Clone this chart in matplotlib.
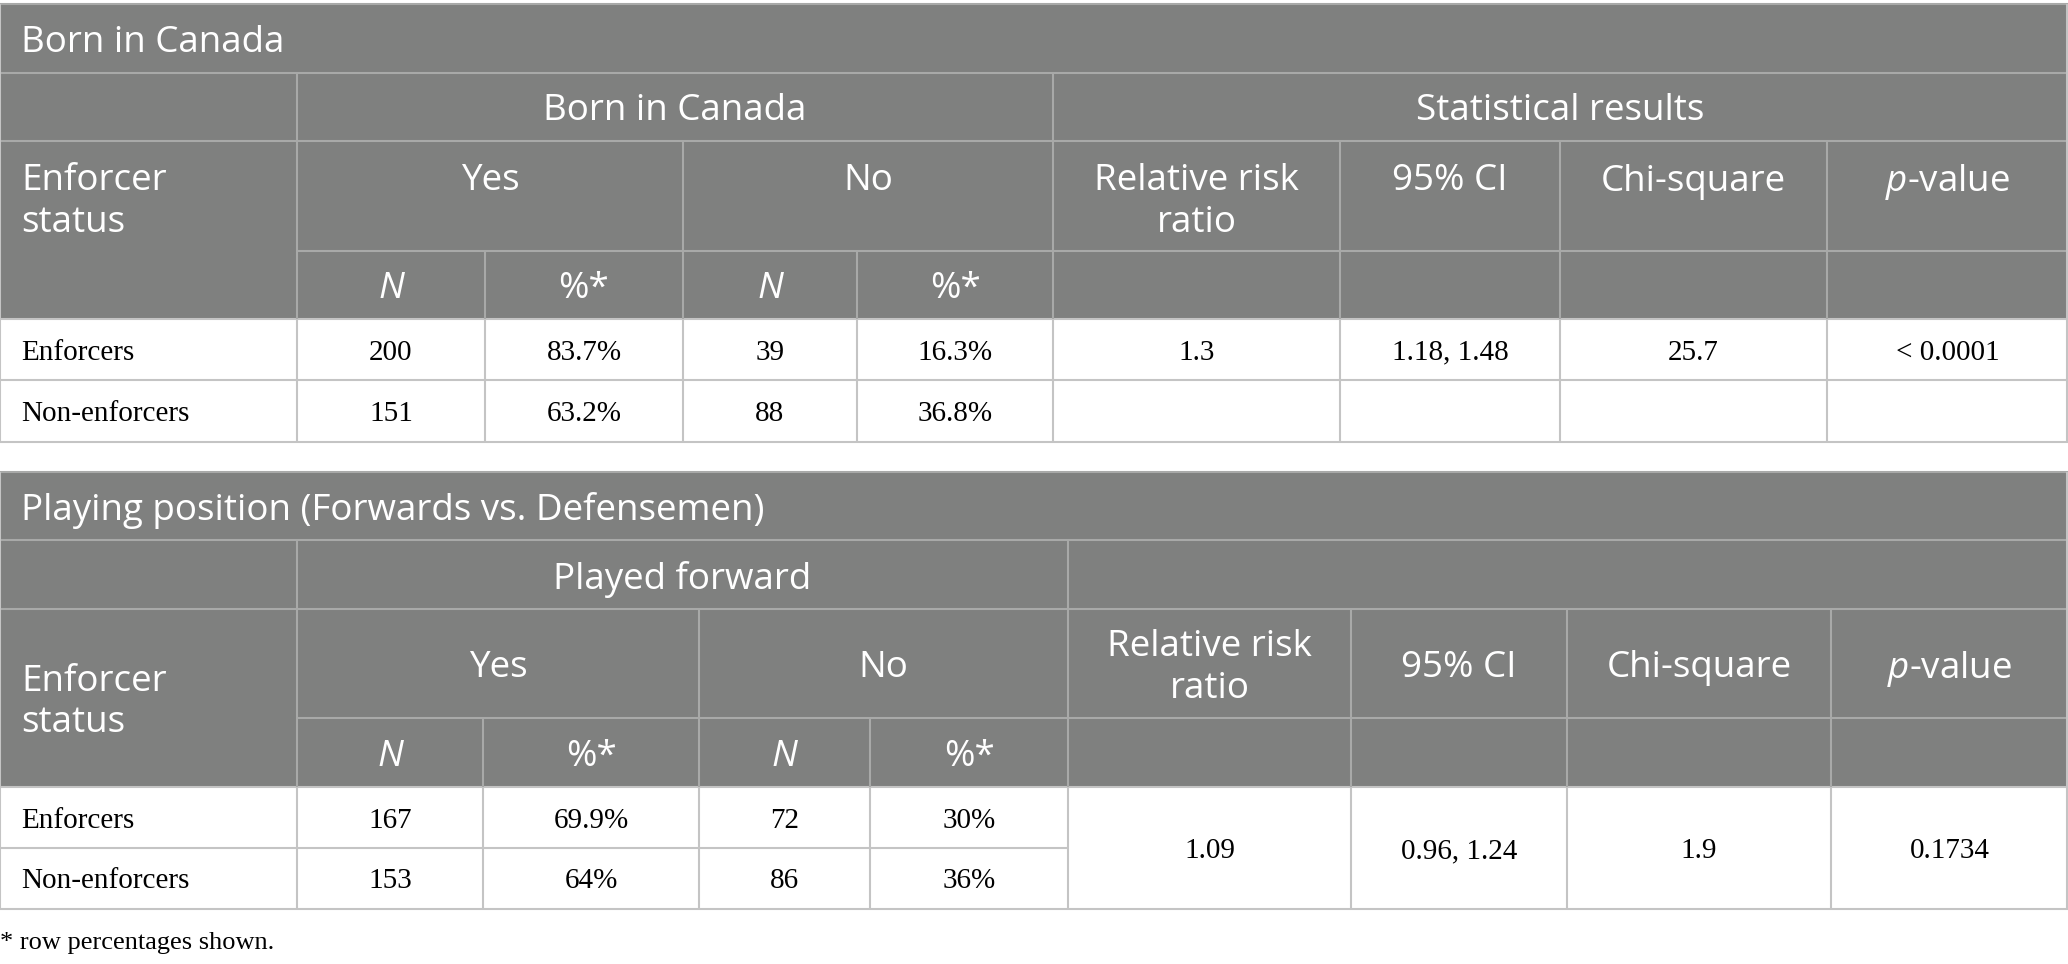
"""
Enforcer status tables: born in Canada and playing position
"""

import matplotlib
matplotlib.use("Agg")
import matplotlib.pyplot as plt
from matplotlib.patches import Rectangle

# data
row_labels = ["Enforcers", "Non-enforcers"]

t1_title = "Born in Canada"
t1_group = "Born in Canada"
t1_n_yes = [200, 151]
t1_pct_yes = ["83.7%", "63.2%"]
t1_n_no = [39, 88]
t1_pct_no = ["16.3%", "36.8%"]
t1_stats = ["1.3", "1.18, 1.48", "25.7", "< 0.0001"]

t2_title = "Playing position (Forwards vs. Defensemen)"
t2_group = "Played forward"
t2_n_yes = [167, 153]
t2_pct_yes = ["69.9%", "64%"]
t2_n_no = [72, 86]
t2_pct_no = ["30%", "36%"]
t2_stats = ["1.09", "0.96, 1.24", "1.9", "0.1734"]

stat_headers = [["Relative risk", "ratio"], ["95% CI"], ["Chi-square"], ["$p$-value"]]
footnote = "* row percentages shown."

# styles
W, H = 2068, 964
HEAD_BG = "#7f807f"
LINE_HEAD = "#a8a9a8"
LINE_BODY = "#c4c4c4"
SANS = "Open Sans"
SERIF = "Liberation Serif"
HS = 26.5   # header font size
BS = 21     # body font size

plt.rcParams["mathtext.fontset"] = "custom"
plt.rcParams["mathtext.it"] = "Open Sans:italic"
plt.rcParams["mathtext.rm"] = "Open Sans"

fig = plt.figure(figsize=(W / 100, H / 100), dpi=100)
ax = fig.add_axes([0, 0, 1, 1])
ax.set_xlim(0, W)
ax.set_ylim(H, 0)
ax.axis("off")


def hline(y, x0, x1, c):
    ax.plot([x0, x1], [y, y], color=c, lw=1.5, solid_capstyle="butt", zorder=3)


def vline(x, y0, y1, c):
    ax.plot([x, x], [y0, y1], color=c, lw=1.5, solid_capstyle="butt", zorder=3)


def htext(x, y, s, ha="center", style="normal"):
    ax.text(x, y, s, ha=ha, va="center_baseline", color="white",
            fontsize=HS, family=SANS, fontstyle=style, zorder=4)


def btext(x, y, s, ha="center"):
    ax.text(x, y, s, ha=ha, va="center_baseline", color="black",
            fontsize=BS, family=SERIF, zorder=4)


def draw_table(rows, cols, title, group, n_yes, pct_yes, n_no, pct_no, stats,
               centered, merged_stats, stat_group):
    r0, r1, r2, r3, r4, r5, r6 = rows
    c = cols
    ax.add_patch(Rectangle((0, r0), W, r4 - r0, color=HEAD_BG, lw=0, zorder=1))
    ax.add_patch(Rectangle((0, r4), W, r6 - r4, color="white", lw=0, zorder=1))

    # horizontal rules
    hline(r0, 0, W, LINE_HEAD)
    hline(r1, 0, W, LINE_HEAD)
    hline(r2, 0, W, LINE_HEAD)
    hline(r3, c[1], W, LINE_HEAD)
    hline(r4, 0, W, LINE_BODY)
    if merged_stats:
        hline(r5, 0, c[5], LINE_BODY)
    else:
        hline(r5, 0, W, LINE_BODY)
    hline(r6, 0, W, LINE_BODY)
    vline(0, r0, r6, LINE_BODY)
    vline(W - 1, r0, r6, LINE_BODY)

    # vertical rules
    for x in (c[1], c[5]):
        vline(x, r1, r4, LINE_HEAD)
        vline(x, r4, r6, LINE_BODY)
    vline(c[3], r2, r4, LINE_HEAD)
    vline(c[3], r4, r6, LINE_BODY)
    for x in (c[2], c[4]):
        vline(x, r3, r4, LINE_HEAD)
        vline(x, r4, r6, LINE_BODY)
    for x in c[6:9]:
        vline(x, r2, r4, LINE_HEAD)
        vline(x, r4, r6, LINE_BODY)

    # header texts
    htext(21, (r0 + r1) / 2, title, ha="left")
    htext((c[1] + c[5]) / 2, (r1 + r2) / 2, group)
    if stat_group:
        htext((c[5] + W) / 2, (r1 + r2) / 2, stat_group)

    gap = 41
    if centered:
        y_a = (r2 + r3) / 2
        y_e = (r2 + r4) / 2
        htext(21, y_e - gap / 2, "Enforcer", ha="left")
        htext(21, y_e + gap / 2, "status", ha="left")
    else:
        y_a = r2 + 36
        htext(21, y_a, "Enforcer", ha="left")
        htext(21, y_a + gap, "status", ha="left")
    htext((c[1] + c[3]) / 2, y_a, "Yes")
    htext((c[3] + c[5]) / 2, y_a, "No")
    edges = list(c[5:]) + [W]
    for i, lines in enumerate(stat_headers):
        xc = (edges[i] + edges[i + 1]) / 2
        if len(lines) == 1:
            htext(xc, y_a, lines[0])
        elif centered:
            htext(xc, y_a - gap / 2, lines[0])
            htext(xc, y_a + gap / 2, lines[1])
        else:
            htext(xc, y_a, lines[0])
            htext(xc, y_a + gap, lines[1])
    y_n = (r3 + r4) / 2
    for k in range(4):
        htext((c[1 + k] + c[2 + k]) / 2, y_n, "N" if k % 2 == 0 else "%*",
              style="italic" if k % 2 == 0 else "normal")

    # body
    ys = [(r4 + r5) / 2, (r5 + r6) / 2]
    for i, lab in enumerate(row_labels):
        btext(21, ys[i], lab, ha="left")
        btext((c[1] + c[2]) / 2, ys[i], str(n_yes[i]))
        btext((c[2] + c[3]) / 2, ys[i], pct_yes[i])
        btext((c[3] + c[4]) / 2, ys[i], str(n_no[i]))
        btext((c[4] + c[5]) / 2, ys[i], pct_no[i])
    ys_stat = (r4 + r6) / 2 if merged_stats else ys[0]
    for i, s in enumerate(stats):
        btext((edges[i] + edges[i + 1]) / 2, ys_stat, s)


draw_table([4, 73, 141, 251, 319, 380, 442],
           [0, 297, 485, 683, 857, 1053, 1340, 1560, 1827],
           t1_title, t1_group, t1_n_yes, t1_pct_yes, t1_n_no, t1_pct_no,
           t1_stats, centered=False, merged_stats=False,
           stat_group="Statistical results")

draw_table([472, 540, 609, 718, 787, 848, 909],
           [0, 297, 483, 699, 870, 1068, 1351, 1567, 1831],
           t2_title, t2_group, t2_n_yes, t2_pct_yes, t2_n_no, t2_pct_no,
           t2_stats, centered=True, merged_stats=True, stat_group=None)

ax.text(0, 940, footnote, ha="left", va="center_baseline", color="black",
        fontsize=19, family=SERIF)

plt.savefig("out.png", dpi=100)
plt.close()
